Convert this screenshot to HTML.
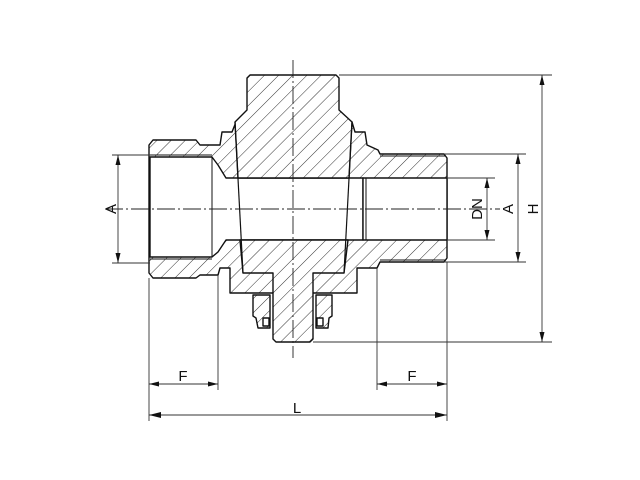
<!DOCTYPE html>
<html><head><meta charset="utf-8"><style>
html,body{margin:0;padding:0;background:#fff;width:640px;height:480px;overflow:hidden}
svg{display:block}
text{font-family:"Liberation Sans",sans-serif;font-size:15px;fill:#111}
</style></head><body>
<svg width="640" height="480" viewBox="0 0 640 480" xmlns="http://www.w3.org/2000/svg">
<defs>
<pattern id="h" patternUnits="userSpaceOnUse" width="10" height="10" patternTransform="rotate(45)">
<rect width="10" height="10" fill="#fff"/>
<line x1="0" y1="0" x2="0" y2="10" stroke="#333" stroke-width="1"/>
</pattern>
</defs>
<g stroke="#111" stroke-width="1.4" stroke-linejoin="round">
<path fill="url(#h)" d="M149,145 L153,140 L196,140 L200,145 L220,145 L222,132 L232,132 L236,122 L352,122 L355,132 L365,132 L367,145 L378,150 L380,154 L444,154 L447,158 L447,258 L444,262 L380,262 L377,268 L357,268 L357,293 L230,293 L230,268 L220,268 L218,275 L200,275 L196,278 L153,278 L149,273 Z"/>
<path fill="#fff" d="M150,157 L212,157 L218,165 L226,178 L363,178 L363,240 L226,240 L218,252 L212,257 L150,257 Z"/>
<path fill="#fff" d="M363,178 L447,178 L447,240 L363,240 Z"/>
<path fill="url(#h)" d="M247,78 L250,75 L336,75 L339,78 L339,110 L352,122 L349,178 L238,178 L235,122 L247,110 Z"/>
<path fill="url(#h)" d="M240,240 L348,240 L344,273 L313,273 L313,339 L310,342 L276,342 L273,339 L273,273 L243,273 Z"/>
<path fill="url(#h)" d="M253,295 L270,295 L270,328 L258,328 L256,318 L253,316 Z"/>
<path fill="url(#h)" d="M316,295 L332,295 L332,316 L329,318 L328,328 L316,328 Z"/>
<rect x="263" y="318" width="6" height="8" fill="#fff"/>
<rect x="317" y="318" width="6" height="8" fill="#fff"/>
</g>
<g stroke="#111" stroke-width="1.2" fill="none">
<line x1="235" y1="122" x2="243" y2="273"/>
<line x1="352" y1="122" x2="344" y2="273"/>
</g>
<g stroke="#111" stroke-width="1" fill="none">
<line x1="150" y1="155" x2="212" y2="155"/>
<line x1="150" y1="259" x2="212" y2="259"/>
<line x1="212" y1="157" x2="212" y2="257"/>
<line x1="366" y1="178" x2="366" y2="240"/>
<line x1="380" y1="156" x2="446" y2="156"/>
<line x1="380" y1="260" x2="446" y2="260"/>
</g>
<g stroke="#222" stroke-width="0.9" stroke-dasharray="18,3,2,3" fill="none">
<line x1="105" y1="209" x2="500" y2="209"/>
<line x1="293" y1="60" x2="293" y2="358"/>
</g>
<g stroke="#333" stroke-width="0.9" fill="none">
<line x1="339" y1="75" x2="552" y2="75"/>
<line x1="313" y1="342" x2="552" y2="342"/>
<line x1="542" y1="75" x2="542" y2="342"/>
<line x1="444" y1="154" x2="526" y2="154"/>
<line x1="444" y1="262" x2="526" y2="262"/>
<line x1="518" y1="154" x2="518" y2="262"/>
<line x1="447" y1="178" x2="495" y2="178"/>
<line x1="447" y1="240" x2="495" y2="240"/>
<line x1="487" y1="178" x2="487" y2="240"/>
<line x1="112" y1="155" x2="150" y2="155"/>
<line x1="112" y1="263" x2="150" y2="263"/>
<line x1="118" y1="155" x2="118" y2="263"/>
<line x1="149" y1="278" x2="149" y2="421"/>
<line x1="218" y1="275" x2="218" y2="390"/>
<line x1="377" y1="268" x2="377" y2="390"/>
<line x1="447" y1="262" x2="447" y2="421"/>
<line x1="149" y1="384" x2="218" y2="384"/>
<line x1="377" y1="384" x2="447" y2="384"/>
<line x1="149" y1="415" x2="447" y2="415"/>
</g>
<g fill="#111">
<path d="M542,75 l-2.5,10 h5 Z"/><path d="M542,342 l-2.5,-10 h5 Z"/>
<path d="M518,154 l-2.5,10 h5 Z"/><path d="M518,262 l-2.5,-10 h5 Z"/>
<path d="M487,178 l-2.5,10 h5 Z"/><path d="M487,240 l-2.5,-10 h5 Z"/>
<path d="M118,155 l-2.5,10 h5 Z"/><path d="M118,263 l-2.5,-10 h5 Z"/>
<path d="M149,384 l10,-2.5 v5 Z"/><path d="M218,384 l-10,-2.5 v5 Z"/>
<path d="M377,384 l10,-2.5 v5 Z"/><path d="M447,384 l-10,-2.5 v5 Z"/>
<path d="M149,415 l12,-3 v6 Z"/><path d="M447,415 l-12,-3 v6 Z"/>
</g>
<text x="183" y="381" text-anchor="middle">F</text>
<text x="412" y="381" text-anchor="middle">F</text>
<text x="297" y="413" text-anchor="middle">L</text>
<text transform="translate(116,209) rotate(-90)" text-anchor="middle">A</text>
<text transform="translate(482,209) rotate(-90)" text-anchor="middle">DN</text>
<text transform="translate(513,209) rotate(-90)" text-anchor="middle">A</text>
<text transform="translate(538,209) rotate(-90)" text-anchor="middle">H</text>
</svg>
</body></html>
